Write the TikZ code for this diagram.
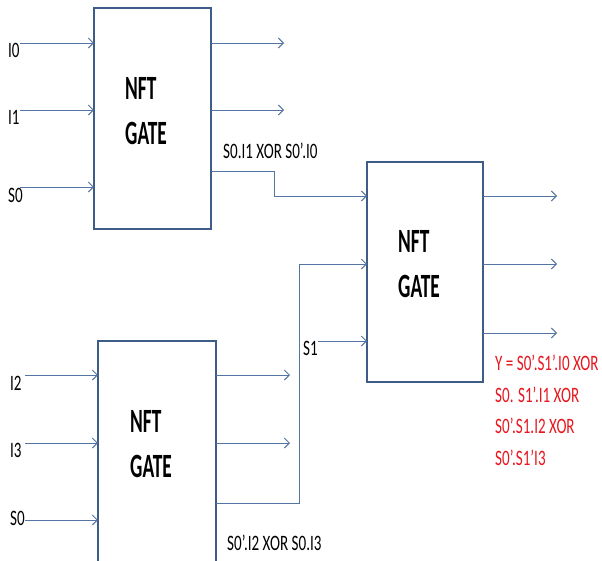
\documentclass[tikz,border=0pt]{standalone}
\usepackage{fontspec}
\setmainfont{Carlito}
\usetikzlibrary{arrows.meta}
\definecolor{wire}{RGB}{84,116,162}
\definecolor{edgec}{RGB}{62,92,136}
\definecolor{eqred}{RGB}{232,22,30}
\newcommand\nar[1]{\scalebox{0.685}[1]{#1}}
\newcommand\narb[1]{\scalebox{0.57}[1]{#1}}
\begin{document}
\begin{tikzpicture}[x=1pt,y=-1pt,
  gatebox/.style={draw=edgec, line width=2pt, fill=white, rectangle, inner sep=0pt},
  wirel/.style={draw=wire, line width=1pt},
  arr/.style={wirel, -{Straight Barb[length=5pt,width=10pt]}},
  lbl/.style={font=\fontsize{22}{22}\selectfont, inner sep=0pt, anchor=base west},
  gtxt/.style={font=\fontsize{34}{45}\selectfont\bfseries, inner sep=0pt, anchor=base west, align=left},
  eqtxt/.style={font=\fontsize{22}{31.5}\selectfont, text=eqred, inner sep=0pt, anchor=base west, align=left}]
\useasboundingbox (0,0) rectangle (602,560);
\clip (0,0) rectangle (602,560);
\fill[white] (0,0) rectangle (602,560);

% gates
\node[gatebox, minimum width=117pt, minimum height=221pt] (g1) at (152.5,118.5) {};
\node[gatebox, minimum width=116pt, minimum height=220pt] (g2) at (425,272) {};
\node[gatebox, minimum width=118pt, minimum height=240pt] (g3) at (157,461) {};

\node[gtxt] (t1) at (125,144) {\narb{NFT}\\\narb{GATE}};
\node[gtxt] (t2) at (398,297) {\narb{NFT}\\\narb{GATE}};
\node[gtxt] (t3) at (130,477) {\narb{NFT}\\\narb{GATE}};

% ports
\coordinate (g1i1) at (94,43);
\coordinate (g1i2) at (94,110);
\coordinate (g1i3) at (94,187);
\coordinate (g1o1) at (211,43);
\coordinate (g1o2) at (211,110);
\coordinate (g1o3) at (211,171);
\coordinate (e1o1) at (284,43);
\coordinate (e1o2) at (284,110);

\coordinate (g2i1) at (367,196);
\coordinate (g2i2) at (367,264);
\coordinate (g2i3) at (367,341);
\coordinate (g2o1) at (483,196);
\coordinate (g2o2) at (483,264);
\coordinate (g2o3) at (483,333);
\coordinate (e2o1) at (557,196);
\coordinate (e2o2) at (557,264);
\coordinate (e2o3) at (557,333);

\coordinate (g3i1) at (98,375);
\coordinate (g3i2) at (98,443);
\coordinate (g3i3) at (98,520);
\coordinate (g3o1) at (216,375);
\coordinate (g3o2) at (216,443);
\coordinate (g3o3) at (216,503);
\coordinate (e3o1) at (290,375);
\coordinate (e3o2) at (290,443);

% input labels and start points
\node[lbl] (lI0) at (8,57) {\nar{I0}};
\node[lbl] (lI1) at (8,124) {\nar{I1}};
\node[lbl] (lS0a) at (8,202) {\nar{S0}};
\node[lbl] (lI2) at (10,390) {\nar{I2}};
\node[lbl] (lI3) at (10,457) {\nar{I3}};
\node[lbl] (lS0b) at (10,525) {\nar{S0}};
\node[lbl] (lS1) at (303,355) {\nar{S1}};

\coordinate (s1) at (20,43);
\coordinate (s2) at (20,110);
\coordinate (s3) at (20,187);
\coordinate (s4) at (25,375);
\coordinate (s5) at (25,443);
\coordinate (s6) at (25,520);
\coordinate (s7) at (318,341);

\draw[arr] (s1) -- (g1i1);
\draw[arr] (s2) -- (g1i2);
\draw[arr] (s3) -- (g1i3);
\draw[arr] (s4) -- (g3i1);
\draw[arr] (s5) -- (g3i2);
\draw[arr] (s6) -- (g3i3);
\draw[arr] (s7) -- (g2i3);

\draw[arr] (g1o1) -- (e1o1);
\draw[arr] (g1o2) -- (e1o2);
\draw[arr] (g2o1) -- (e2o1);
\draw[arr] (g2o2) -- (e2o2);
\draw[arr] (g2o3) -- (e2o3);
\draw[arr] (g3o1) -- (e3o1);
\draw[arr] (g3o2) -- (e3o2);

% interconnects
\draw[arr] (g1o3) -- ++(63,0) |- (g2i1);
\draw[arr] (g3o3) -- ++(83,0) |- (g2i2);

% expression labels
\node[lbl] (x1) at (223,158) {\nar{S0.I1 XOR S0’.I0}};
\node[lbl] (x2) at (227,550) {\nar{S0’.I2 XOR S0.I3}};
\node[eqtxt] (y) at (495,465) {\nar{Y = S0’.S1’.I0 XOR}\\\nar{S0. S1’.I1 XOR}\\\nar{S0’.S1.I2 XOR}\\\nar{S0’.S1’I3}};
\end{tikzpicture}
\end{document}
